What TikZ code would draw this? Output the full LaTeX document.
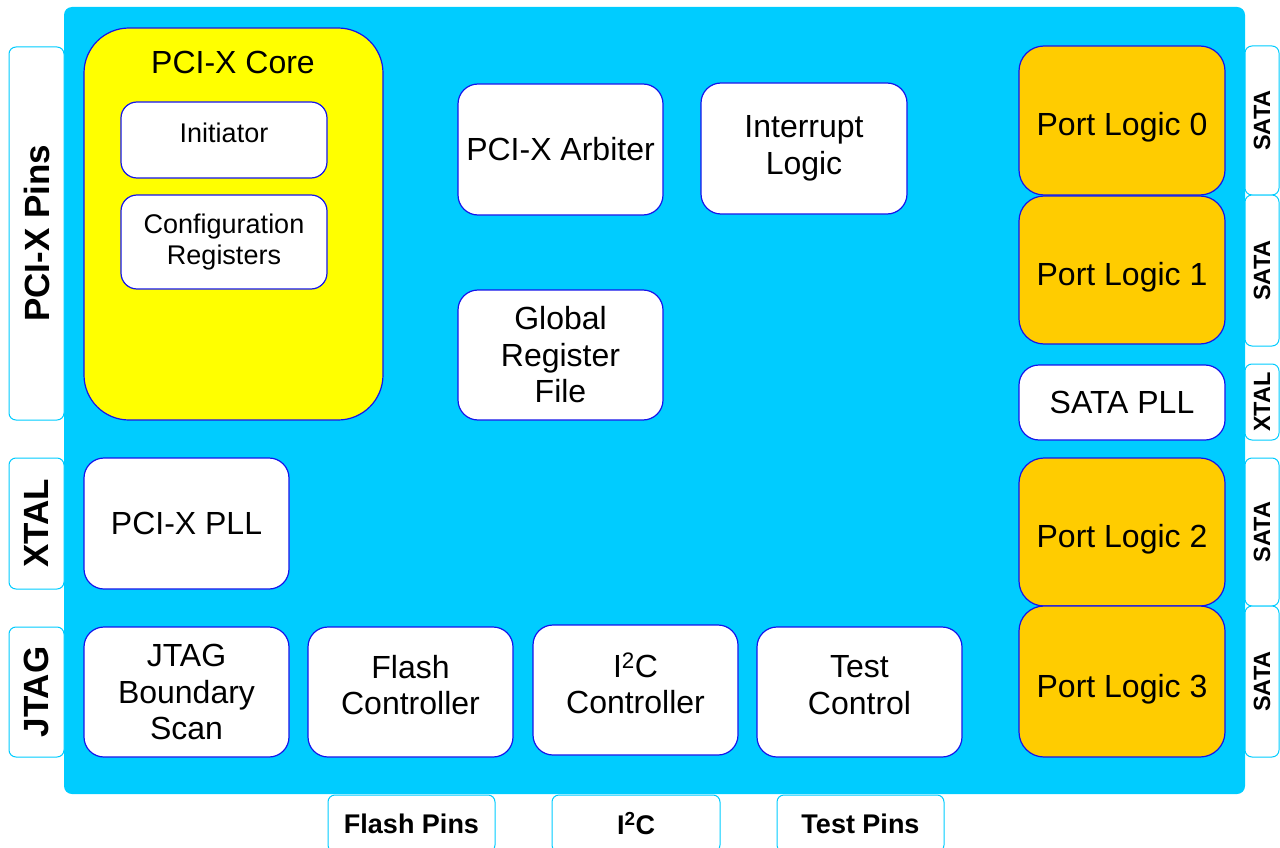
\documentclass[tikz,border=0pt]{standalone}
\usepackage{fontspec}
\setmainfont{Liberation Sans}
\usepackage{tikz}
\usetikzlibrary{positioning}
\definecolor{chipcyan}{RGB}{0,204,255}
\definecolor{coreyellow}{RGB}{255,255,0}
\definecolor{portorange}{RGB}{255,204,0}
\definecolor{edgeblue}{RGB}{20,20,235}
\tikzset{
    raw block/.style={rectangle, draw=edgeblue, line width=1.2pt, align=center, inner sep=0pt},
    block/.style={raw block, fill=white, rounded corners=20pt, font=\fontsize{32}{36.5}\selectfont},
    small block/.style={raw block, fill=white, rounded corners=16pt, font=\fontsize{27}{31}\selectfont},
    core block/.style={raw block, fill=coreyellow, rounded corners=45pt},
    port block/.style={raw block, fill=portorange, rounded corners=25pt, text height=31pt, text depth=0pt, font=\fontsize{32}{36.5}\selectfont},
    high text/.style={text depth=14pt},
    pin box/.style={rectangle, draw=chipcyan, line width=1pt, fill=white, rounded corners=7pt, inner sep=0pt, font=\bfseries},
    left pin/.style={pin box, rotate=90, minimum height=55pt, font=\fontsize{35}{40}\bfseries\selectfont},
    right pin/.style={pin box, rotate=90, minimum height=34pt, font=\fontsize{23.5}{27}\bfseries\selectfont},
    bottom pin/.style={pin box, minimum height=57pt, font=\fontsize{27}{31}\bfseries\selectfont}
}
\begin{document}
\begin{tikzpicture}[x=1pt,y=-1pt]
	\useasboundingbox (0,0) rectangle (1280,848);
	% chip body
	\fill[chipcyan, rounded corners=8pt] (64,7) rectangle (1245,794);
	% PCI-X core
	\node[core block, minimum width=299pt, minimum height=392pt] (core) at (233.5,224) {};
	\node[font=\fontsize{32}{36.5}\selectfont] (coretitle) at (233,62) {PCI-X Core};
	\node[small block, high text, minimum width=206pt, minimum height=76pt] (init) at (224,140) {Initiator};
	\node[small block, minimum width=206pt, minimum height=94pt] (config) at (224,242) {Configuration\\Registers};
	% middle blocks
	\node[block, minimum width=205pt, minimum height=131pt] (arbiter) at (560.5,149.5) {PCI-X Arbiter};
	\node[block, minimum width=206pt, minimum height=131pt] (intr) at (804,148.5) {Interrupt\\Logic};
	\node[block, minimum width=205pt, minimum height=130pt] (grf) at (560.5,355) {Global\\Register\\File};
	\node[block, minimum width=205pt, minimum height=131pt] (pcipll) at (186.5,523.5) {PCI-X PLL};
	% bottom row
	\node[block, minimum width=205pt, minimum height=130pt] (jtag) at (186.5,692) {JTAG\\Boundary\\Scan};
	\node[block, high text, minimum width=205pt, minimum height=130pt] (flash) at (410.5,692) {Flash\\Controller};
	\node[block, high text, minimum width=205pt, minimum height=130pt] (iic) at (635.5,690) {I\textsuperscript{2}C\\Controller};
	\node[block, high text, minimum width=205pt, minimum height=130pt] (testctl) at (859.5,692) {Test\\Control};
	% SATA ports
	\node[port block, minimum width=206pt, minimum height=149pt] (port0) at (1122,120.5) {Port Logic 0};
	\node[port block, minimum width=206pt, minimum height=148pt] (port1) at (1122,270) {Port Logic 1};
	\node[block, minimum width=206pt, minimum height=75pt] (satapll) at (1122,402.5) {SATA PLL};
	\node[port block, minimum width=206pt, minimum height=148pt] (port2) at (1122,532) {Port Logic 2};
	\node[port block, minimum width=206pt, minimum height=151pt] (port3) at (1122,681.5) {Port Logic 3};
	% pins
	\node[left pin, minimum width=373pt] (pcixpins) at (36.5,233.5) {PCI-X Pins};
	\node[left pin, minimum width=131pt] (xtalleft) at (36.5,523.5) {XTAL};
	\node[left pin, minimum width=130pt] (jtagpins) at (36.5,692) {JTAG};
	\node[right pin, minimum width=149pt] (sata0) at (1262,120.5) {SATA};
	\node[right pin, minimum width=151pt] (sata1) at (1262,270.5) {SATA};
	\node[right pin, minimum width=76pt] (xtalright) at (1262,402) {XTAL};
	\node[right pin, minimum width=148pt] (sata2) at (1262,532) {SATA};
	\node[right pin, minimum width=151pt] (sata3) at (1262,681.5) {SATA};
	\node[bottom pin, minimum width=167pt] (flashpins) at (411.5,823.5) {Flash Pins};
	\node[bottom pin, minimum width=168pt] (iicpins) at (636,823.5) {I\textsuperscript{2}C};
	\node[bottom pin, minimum width=167pt] (testpins) at (860.5,823.5) {Test Pins};
\end{tikzpicture}
\end{document}
